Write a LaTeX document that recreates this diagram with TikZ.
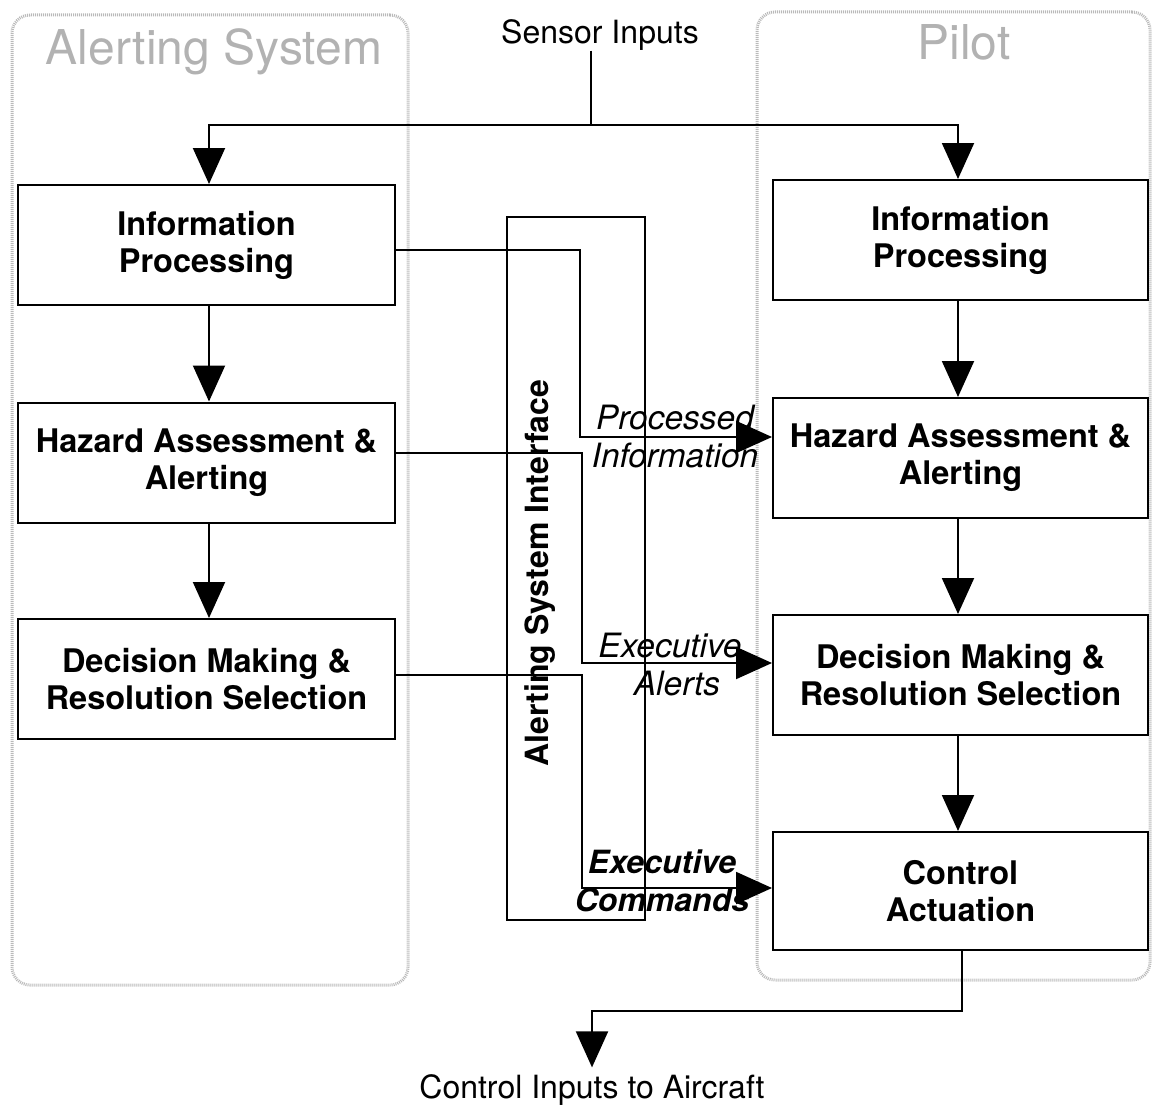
\documentclass[tikz,border=0pt]{standalone}
\usepackage{fontspec}
\setmainfont{TeX Gyre Heros}
\usetikzlibrary{arrows.meta,calc}
\begin{document}
\begin{tikzpicture}[x=1pt,y=-1pt,
  box/.style={draw,line width=2pt,minimum width=377pt,minimum height=120pt,align=center,
    font=\fontsize{32.5}{37}\selectfont\bfseries,inner sep=0pt},
  cont/.style={draw=gray!55,line width=3pt,dash pattern=on 1pt off 1pt,rounded corners=18pt,inner sep=0pt},
  ttl/.style={text=gray!60,font=\fontsize{48}{52}\selectfont,inner sep=0pt},
  plain/.style={font=\fontsize{32}{36}\selectfont,inner sep=0pt},
  lbl/.style={align=center,font=\fontsize{33.5}{38}\selectfont\itshape,inner sep=0pt},
  conn/.style={line width=2pt},
  arr/.style={line width=2pt,-{Triangle[length=36pt,width=32pt]}},
]
\useasboundingbox (0,0) rectangle (1156,1108);
% containers
\node[cont,minimum width=396pt,minimum height=970pt] (AS) at (210,500) {};
\node[cont,minimum width=393pt,minimum height=968pt] (PL) at (953.5,496) {};
\node[ttl] (tAS) at (214,52) {Alerting System};
\node[ttl] (tPL) at (964,42) {Pilot};
% left boxes
\node[box] (L1) at (206.5,245) {Information\\Processing};
\node[box] (L2) at (206.5,462.5) {Hazard Assessment \&\\Alerting};
\node[box] (L3) at (206.5,679) {Decision Making \&\\Resolution Selection};
% right boxes
\node[box,minimum width=375pt] (R1) at (960.5,240) {Information\\Processing};
\node[box,minimum width=375pt] (R2) at (960.5,458) {Hazard Assessment \&\\Alerting};
\node[box,minimum width=375pt] (R3) at (960.5,675) {Decision Making \&\\Resolution Selection};
\node[box,minimum width=375pt,minimum height=118pt] (R4) at (960.5,891) {Control\\Actuation};
% interface
\node[draw,line width=2pt,minimum width=138pt,minimum height=703pt,inner sep=0pt] (IF) at (576,568.5) {};
\node[rotate=90,font=\fontsize{32}{36}\selectfont\bfseries,inner sep=0pt] (IFl) at (540,573) {Alerting System Interface};
% sensor inputs
\node[plain] (SI) at (600,35) {Sensor Inputs};
\draw[conn] (SI.south -| 591,0) -- (591,125) coordinate (J);
\draw[arr] (J) -| ($(L1.north)+(2.5,0)$);
\draw[arr] (J) -| ($(R1.north)+(-2.5,0)$);
% vertical arrows
\draw[arr] ($(L1.south)+(2.5,0)$) -- ($(L2.north)+(2.5,0)$);
\draw[arr] ($(L2.south)+(2.5,0)$) -- ($(L3.north)+(2.5,0)$);
\draw[arr] ($(R1.south)+(-2.5,0)$) -- ($(R2.north)+(-2.5,0)$);
\draw[arr] ($(R2.south)+(-2.5,0)$) -- ($(R3.north)+(-2.5,0)$);
\draw[arr] ($(R3.south)+(-2.5,0)$) -- ($(R4.north)+(-2.5,0)$);
% cross connectors
\draw[arr] ($(L1.east)+(0,5)$) -| (580,437) -- ($(R2.west)+(0,-21)$);
\draw[arr] ($(L2.east)+(0,-9.5)$) -| (582,663) -- ($(R3.west)+(0,-12)$);
\draw[arr] ($(L3.east)+(0,-4)$) -| (582,888) -- ($(R4.west)+(0,-3)$);
\node[lbl] (pi) at (675,437) {Processed\\Information};
\node[lbl] (ea) at (670,665) {Executive\\\hspace*{14pt}Alerts};
\node[lbl,font=\fontsize{32}{38}\selectfont\bfseries\itshape] (ec) at (662,881) {Executive\\Commands};
% output
\node[plain] (CI) at (592,1090) {Control Inputs to Aircraft};
\draw[arr] ($(R4.south)+(1.5,0)$) -- ++(0,60) -| ($(CI.north)+(0,-7)$);
\end{tikzpicture}
\end{document}
